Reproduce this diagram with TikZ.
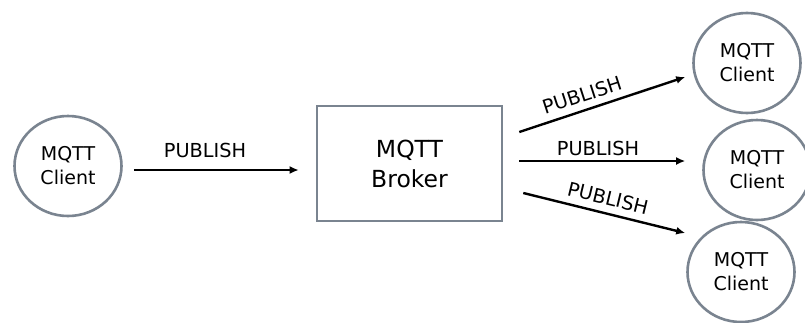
\documentclass[tikz,border=0pt]{standalone}
\usepackage{fontspec}
\setmainfont{DejaVu Sans}
\usetikzlibrary{shapes.geometric,arrows.meta,calc}
\definecolor{edgegray}{RGB}{122,132,144}
\begin{document}
\begin{tikzpicture}[x=1pt,y=-1pt,
  client/.style={ellipse,draw=edgegray,line width=2.6pt,minimum width=107pt,
    minimum height=100pt,inner sep=0pt,align=center,
    font=\fontsize{19}{24}\selectfont},
  broker/.style={rectangle,draw=edgegray,line width=2.6pt,minimum width=185pt,
    minimum height=115pt,inner sep=0pt,align=center,
    font=\fontsize{23.5}{30}\selectfont},
  msg/.style={draw=black,line width=2.4pt,-{Latex[length=9pt,width=8pt]}},
  lbl/.style={font=\fontsize{19.3}{22}\selectfont,inner sep=0pt}]
  % canvas
  \fill[white] (0,0) rectangle (805,322);
  \useasboundingbox (0,0) rectangle (805,322);

  % publisher, broker and subscribers
  \node[client] (pub)  at (68,166)    {MQTT\\Client};
  \node[broker] (brk)  at (409.5,163.5) {MQTT\\Broker};
  \node[client] (sub1) at (747,63)    {MQTT\\Client};
  \node[client] (sub2) at (757,170)   {MQTT\\Client};
  \node[client] (sub3) at (741,272)   {MQTT\\Client};

  % publish messages
  \draw[msg] ($(pub.east)+(11,4)$) -- ($(brk.west)+(-17,6.5)$);
  \draw[msg] ($(brk.east)+(16,-31.5)$) -- ($(sub1.west)+(-7,14)$);
  \draw[msg] ($(brk.east)+(16,-2.5)$) -- ($(sub2.west)+(-17,-9)$);
  \draw[msg] ($(brk.east)+(20,29.5)$) -- ($(sub3.west)+(-1,-39)$);

  % message labels
  \node[lbl] (l1) at (205,150) {PUBLISH};
  \node[lbl,rotate=18] (l2) at (582,95) {PUBLISH};
  \node[lbl] (l3) at (598,148) {PUBLISH};
  \node[lbl,rotate=-13.7] (l4) at (608,198) {PUBLISH};
\end{tikzpicture}
\end{document}
